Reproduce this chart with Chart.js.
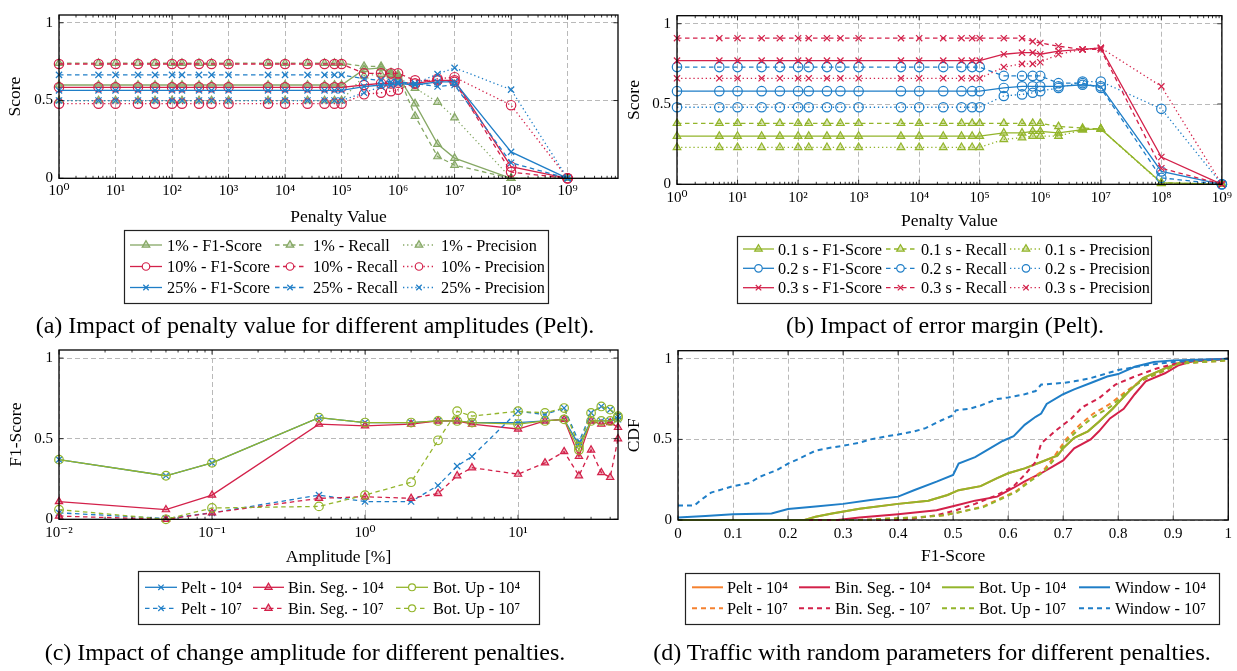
<!DOCTYPE html>
<html><head><meta charset="utf-8">
<script src="https://cdn.jsdelivr.net/npm/chart.js@4.4.1/dist/chart.umd.min.js"></script>
<style>
html,body{margin:0;padding:0;background:#fff;}
body{width:1237px;height:671px;position:relative;overflow:hidden;font-family:"Liberation Serif","DejaVu Serif",serif;}
canvas{position:absolute;}
#overlay{position:absolute;left:0;top:0;}
</style>
</head><body>
<canvas id="ca" width="640" height="230" style="left:0;top:0"></canvas>
<canvas id="cb" width="617" height="240" style="left:620px;top:0"></canvas>
<canvas id="cc" width="640" height="240" style="left:0;top:335px"></canvas>
<canvas id="cd" width="617" height="240" style="left:620px;top:335px"></canvas>
<svg id="overlay" width="1237" height="671" xmlns="http://www.w3.org/2000/svg"></svg>
<script>
// ================= DATA =================
// (a) penalty value vs. score for different amplitudes (Pelt)
const penaltyValues = [1,5,10,25,50,100,150,300,500,1000,5000,10000,25000,50000,75000,100000,250000,500000,750000,1000000,2000000,5000000,10000000,100000000,1000000000];
const penaltyTickLabels = ['10⁰','10¹','10²','10³','10⁴','10⁵','10⁶','10⁷','10⁸','10⁹'];
const scoreTickLabels = ['0','0.5','1'];
const scoreTicks = [0,0.5,1];

const amp1F1        = [0.60,0.60,0.60,0.60,0.60,0.60,0.60,0.60,0.60,0.60,0.60,0.60,0.60,0.60,0.60,0.60,0.70,0.71,0.67,0.66,0.48,0.22,0.13,0.00,0.00];
const amp1Recall    = [0.74,0.74,0.74,0.74,0.74,0.74,0.74,0.74,0.74,0.74,0.74,0.74,0.74,0.74,0.74,0.74,0.72,0.72,0.68,0.67,0.40,0.14,0.085,0.00,0.00];
const amp1Precision = [0.50,0.50,0.50,0.50,0.50,0.50,0.50,0.50,0.50,0.50,0.50,0.50,0.50,0.50,0.50,0.50,0.66,0.67,0.66,0.65,0.58,0.49,0.39,0.00,0.00];
const amp10F1        = [0.585,0.585,0.585,0.585,0.585,0.585,0.585,0.585,0.585,0.585,0.585,0.585,0.585,0.585,0.585,0.585,0.60,0.61,0.61,0.615,0.61,0.63,0.63,0.075,0.00];
const amp10Recall    = [0.735,0.735,0.735,0.735,0.735,0.735,0.735,0.735,0.735,0.735,0.735,0.735,0.735,0.735,0.735,0.735,0.675,0.675,0.675,0.675,0.63,0.63,0.62,0.04,0.00];
const amp10Precision = [0.48,0.48,0.48,0.48,0.48,0.48,0.48,0.48,0.48,0.48,0.48,0.48,0.48,0.48,0.48,0.48,0.54,0.55,0.56,0.57,0.61,0.64,0.65,0.47,0.00];
const amp25F1        = [0.565,0.565,0.565,0.565,0.565,0.565,0.565,0.565,0.565,0.565,0.565,0.565,0.565,0.565,0.565,0.565,0.59,0.60,0.60,0.61,0.60,0.62,0.62,0.17,0.00];
const amp25Recall    = [0.665,0.665,0.665,0.665,0.665,0.665,0.665,0.665,0.665,0.665,0.665,0.665,0.665,0.665,0.665,0.665,0.64,0.63,0.62,0.62,0.61,0.59,0.60,0.10,0.00];
const amp25Precision = [0.50,0.50,0.50,0.50,0.50,0.50,0.50,0.50,0.50,0.50,0.50,0.50,0.50,0.50,0.50,0.50,0.55,0.59,0.60,0.61,0.61,0.67,0.71,0.57,0.00];

// (b) error margin (Pelt)
const m01F1        = [0.30,0.30,0.30,0.30,0.30,0.30,0.30,0.30,0.30,0.30,0.30,0.30,0.30,0.30,0.30,0.30,0.32,0.32,0.33,0.33,0.32,0.34,0.345,0.01,0.00];
const m01Recall    = [0.38,0.38,0.38,0.38,0.38,0.38,0.38,0.38,0.38,0.38,0.38,0.38,0.38,0.38,0.38,0.38,0.38,0.38,0.38,0.38,0.36,0.35,0.345,0.01,0.00];
const m01Precision = [0.23,0.23,0.23,0.23,0.23,0.23,0.23,0.23,0.23,0.23,0.23,0.23,0.23,0.23,0.23,0.23,0.28,0.29,0.30,0.30,0.30,0.34,0.345,0.005,0.00];
const m02F1        = [0.58,0.58,0.58,0.58,0.58,0.58,0.58,0.58,0.58,0.58,0.58,0.58,0.58,0.58,0.58,0.58,0.60,0.61,0.61,0.61,0.61,0.62,0.61,0.08,0.00];
const m02Recall    = [0.73,0.73,0.73,0.73,0.73,0.73,0.73,0.73,0.73,0.73,0.73,0.73,0.73,0.73,0.73,0.73,0.675,0.675,0.675,0.675,0.63,0.63,0.60,0.04,0.00];
const m02Precision = [0.48,0.48,0.48,0.48,0.48,0.48,0.48,0.48,0.48,0.48,0.48,0.48,0.48,0.48,0.48,0.48,0.55,0.56,0.57,0.58,0.60,0.64,0.64,0.47,0.00];
const m03F1        = [0.77,0.77,0.77,0.77,0.77,0.77,0.77,0.77,0.77,0.77,0.77,0.77,0.77,0.77,0.77,0.77,0.81,0.82,0.82,0.81,0.83,0.84,0.85,0.17,0.00];
const m03Recall    = [0.91,0.91,0.91,0.91,0.91,0.91,0.91,0.91,0.91,0.91,0.91,0.91,0.91,0.91,0.91,0.91,0.91,0.91,0.89,0.88,0.86,0.84,0.84,0.10,0.00];
const m03Precision = [0.66,0.66,0.66,0.66,0.66,0.66,0.66,0.66,0.66,0.66,0.66,0.66,0.66,0.66,0.66,0.66,0.73,0.75,0.75,0.76,0.81,0.84,0.85,0.61,0.00];

// (c) change amplitude [%] vs F1-score
const amplitudes = [0.01,0.05,0.1,0.5,1,2,3,4,5,10,15,20,25,30,35,40,45];
const amplitudeTickLabels = ['10⁻²','10⁻¹','10⁰','10¹'];
const peltP4    = [0.37,0.27,0.35,0.63,0.60,0.60,0.61,0.61,0.60,0.60,0.61,0.62,0.46,0.61,0.61,0.61,0.62];
const binSegP4  = [0.11,0.06,0.15,0.59,0.58,0.59,0.61,0.61,0.59,0.56,0.61,0.62,0.39,0.61,0.59,0.60,0.57];
const botUpP4   = [0.37,0.27,0.35,0.63,0.60,0.60,0.61,0.61,0.60,0.59,0.61,0.62,0.43,0.61,0.61,0.61,0.63];
const peltP7    = [0.04,0.005,0.04,0.15,0.11,0.11,0.21,0.33,0.39,0.67,0.65,0.69,0.48,0.66,0.70,0.68,0.64];
const binSegP7  = [0.02,0.00,0.04,0.13,0.14,0.13,0.16,0.27,0.32,0.28,0.35,0.42,0.27,0.43,0.29,0.26,0.50];
const botUpP7   = [0.06,0.00,0.07,0.08,0.15,0.23,0.49,0.67,0.64,0.67,0.66,0.69,0.45,0.66,0.70,0.68,0.64];

// (d) CDF of F1-score, [F1, CDF] pairs
const cdfTickLabels = ['0','0.1','0.2','0.3','0.4','0.5','0.6','0.7','0.8','0.9','1'];
const cdfPelt4 = [[0,0],[0.23,0],[0.25,0.02],[0.28,0.04],[0.33,0.07],[0.4,0.10],[0.455,0.12],[0.49,0.155],[0.51,0.185],[0.55,0.21],[0.58,0.26],[0.6,0.29],[0.63,0.32],[0.66,0.36],[0.69,0.40],[0.70,0.445],[0.72,0.51],[0.745,0.55],[0.765,0.61],[0.79,0.69],[0.82,0.80],[0.845,0.88],[0.885,0.94],[0.915,0.98],[1,1]];
const cdfBinSeg4 = [[0,0],[0.29,0],[0.33,0.015],[0.4,0.035],[0.47,0.06],[0.505,0.09],[0.54,0.12],[0.58,0.145],[0.61,0.20],[0.63,0.24],[0.66,0.29],[0.68,0.33],[0.70,0.37],[0.72,0.445],[0.75,0.50],[0.765,0.55],[0.785,0.63],[0.81,0.69],[0.83,0.78],[0.85,0.86],[0.885,0.91],[0.91,0.96],[0.94,0.99],[1,1]];
const cdfBotUp4 = [[0,0],[0.23,0],[0.25,0.02],[0.28,0.04],[0.33,0.07],[0.4,0.10],[0.455,0.12],[0.49,0.155],[0.51,0.185],[0.55,0.21],[0.58,0.26],[0.6,0.29],[0.63,0.32],[0.66,0.36],[0.69,0.40],[0.70,0.445],[0.72,0.51],[0.745,0.55],[0.765,0.61],[0.79,0.69],[0.82,0.80],[0.845,0.88],[0.885,0.94],[0.915,0.98],[1,1]];
const cdfWindow4 = [[0,0.015],[0.05,0.025],[0.1,0.035],[0.17,0.04],[0.2,0.068],[0.25,0.083],[0.3,0.10],[0.35,0.124],[0.4,0.145],[0.43,0.186],[0.47,0.238],[0.5,0.28],[0.51,0.35],[0.54,0.39],[0.56,0.43],[0.59,0.49],[0.61,0.52],[0.63,0.59],[0.65,0.64],[0.66,0.66],[0.67,0.72],[0.70,0.78],[0.72,0.81],[0.75,0.85],[0.78,0.89],[0.8,0.905],[0.83,0.95],[0.865,0.98],[0.9,0.99],[1,1]];
const cdfPelt7 = [[0,0],[0.33,0],[0.36,0.005],[0.43,0.015],[0.485,0.03],[0.52,0.055],[0.555,0.085],[0.59,0.14],[0.615,0.18],[0.64,0.25],[0.665,0.31],[0.685,0.40],[0.705,0.50],[0.73,0.59],[0.755,0.66],[0.785,0.72],[0.815,0.80],[0.845,0.87],[0.88,0.92],[0.91,0.97],[1,0.99]];
const cdfBinSeg7 = [[0,0],[0.4,0],[0.43,0.01],[0.47,0.03],[0.505,0.06],[0.54,0.10],[0.58,0.155],[0.61,0.21],[0.63,0.28],[0.65,0.36],[0.66,0.475],[0.685,0.55],[0.715,0.63],[0.735,0.70],[0.765,0.755],[0.795,0.84],[0.83,0.89],[0.87,0.94],[0.915,0.98],[1,1]];
const cdfBotUp7 = [[0,0],[0.33,0],[0.36,0.005],[0.43,0.015],[0.485,0.03],[0.52,0.055],[0.555,0.08],[0.59,0.135],[0.615,0.175],[0.64,0.24],[0.665,0.30],[0.685,0.38],[0.705,0.485],[0.73,0.57],[0.755,0.64],[0.785,0.70],[0.815,0.79],[0.845,0.87],[0.88,0.92],[0.91,0.97],[1,0.99]];
const cdfWindow7 = [[0,0.09],[0.03,0.09],[0.04,0.12],[0.06,0.17],[0.08,0.19],[0.1,0.21],[0.13,0.23],[0.15,0.27],[0.18,0.31],[0.2,0.35],[0.22,0.38],[0.25,0.43],[0.28,0.45],[0.3,0.46],[0.33,0.48],[0.35,0.50],[0.38,0.52],[0.4,0.53],[0.43,0.55],[0.45,0.57],[0.48,0.62],[0.5,0.65],[0.505,0.68],[0.53,0.69],[0.55,0.71],[0.58,0.75],[0.6,0.76],[0.63,0.78],[0.65,0.80],[0.66,0.84],[0.7,0.85],[0.72,0.86],[0.75,0.88],[0.8,0.93],[0.85,0.96],[0.9,0.98],[0.95,0.99],[1,1]];

// ================= STYLE =================
const FONT = '"Liberation Serif","DejaVu Serif",serif';
const COL = {greenA:'#86a865', green:'#93b52b', red:'#d3214a', blue:'#1f7ec7', orange:'#f5812f'};
const DASH = {solid:[], dashed:[4.5,3.5], dotted:[1.3,2.8], thickDash:[5,4]};
function rgba(hex,a){const n=parseInt(hex.slice(1),16);return `rgba(${n>>16},${(n>>8)&255},${n&255},${a})`;}

function series(label, xs, ys, color, style, marker, opt={}){
  const bw = opt.bw || 1.3, r = opt.r || 4.4;
  return {
    label, data: xs.map((x,i)=>({x, y: ys[i]})),
    borderColor: color, backgroundColor: color, borderWidth: bw,
    borderDash: DASH[style], pointStyle: marker || 'circle', pointRadius: marker ? r : 0,
    pointBorderColor: color, pointBorderWidth: 1.2,
    pointBackgroundColor: marker === 'triangle' ? rgba(color,0.35) : 'rgba(255,255,255,0)',
    tension: 0, fill: false, clip: false,
    _color: color, _style: style, _marker: marker, _bw: bw, _r: r
  };
}
function pairSeries(label, pairs, color, style, bw){
  return series(label, pairs.map(p=>p[0]), pairs.map(p=>p[1]), color, style, null, {bw});
}

// frame + inward tick marks like pgfplots
const frameTicks = {
  id:'frameTicks',
  afterDatasetsDraw(chart){
    const {ctx, chartArea:a, scales:{x,y}} = chart;
    ctx.save();
    ctx.strokeStyle = '#000'; ctx.lineWidth = 0.8; ctx.setLineDash([]);
    ctx.beginPath();
    x.ticks.forEach(t=>{const p=x.getPixelForValue(t.value); const L=t.major?4.5:2.5;
      ctx.moveTo(p,a.bottom); ctx.lineTo(p,a.bottom-L); ctx.moveTo(p,a.top); ctx.lineTo(p,a.top+L);});
    y.ticks.forEach(t=>{const p=y.getPixelForValue(t.value);
      ctx.moveTo(a.left,p); ctx.lineTo(a.left+4.5,p); ctx.moveTo(a.right,p); ctx.lineTo(a.right-4.5,p);});
    ctx.stroke();
    ctx.lineWidth = 1.3;
    ctx.strokeRect(a.left, a.top, a.right-a.left, a.bottom-a.top);
    ctx.restore();
  }
};

function logTickList(minExp, maxVal){
  const out=[];
  for(let e=minExp; Math.pow(10,e)<=maxVal; e++){
    for(let m=1;m<10;m++){const v=m*Math.pow(10,e); if(v<=maxVal*1.0000001) out.push({value:v, major:m===1});}
  }
  return out;
}

function makeChart(id, box, area, cfg){
  const yW = area.left - box.left, xH = box.top + box.h - area.bottom;
  const titleSize = 17.5, lh = titleSize*1.2;
  const datasets = cfg.datasets;
  datasets.forEach((d,i)=>{ d.order = datasets.length - i; });
  const gridColor = c => (c.tick && c.tick.major) ? '#b9b9b9' : 'rgba(0,0,0,0)';
  return new Chart(document.getElementById(id), {
    type:'line',
    data:{datasets},
    plugins:[frameTicks],
    options:{
      responsive:false, animation:false, events:[], devicePixelRatio:1,
      layout:{padding:{left:0, top: area.top - box.top, right: box.left + box.w - area.right, bottom:0}},
      plugins:{legend:{display:false}, tooltip:{enabled:false}},
      scales:{
        x:{
          type: cfg.xType, min: cfg.xMin, max: cfg.xMax,
          afterBuildTicks: s => { s.ticks = cfg.xTicks; },
          afterFit: s => { s.height = xH; },
          ticks:{autoSkip:false, maxRotation:0, minRotation:0, padding: cfg.xTickPad,
            font:{family:FONT, size:15}, color:'#000',
            callback:(v,i)=> cfg.xLabel(v,i)},
          grid:{color:gridColor, lineWidth:1, drawTicks:false},
          border:{display:false, dash:[5,3]},
          title:{display:true, text:cfg.xTitle, color:'#000', font:{family:FONT, size:titleSize, lineHeight:1.2},
            padding:{top:0, bottom: box.top + box.h - cfg.xTitleY - lh/2}}
        },
        y:{
          type:'linear', min:0, max:1.05,
          afterBuildTicks: s => { s.ticks = scoreTicks.map(v=>({value:v, major:true})); },
          afterFit: s => { s.width = yW; },
          ticks:{padding: cfg.yTickPad, font:{family:FONT, size:15}, color:'#000',
            callback:(v,i)=> scoreTickLabels[i]},
          grid:{color:gridColor, lineWidth:1, drawTicks:false},
          border:{display:false, dash:[5,3]},
          title:{display:true, text:cfg.yTitle, color:'#000', font:{family:FONT, size:titleSize, lineHeight:1.2},
            padding:{top: cfg.yTitleX - box.left - lh/2, bottom:0}}
        }
      }
    }
  });
}

// ---------- chart (a)
const dsA = [
  series('1% - F1-Score', penaltyValues, amp1F1, COL.greenA, 'solid', 'triangle'),
  series('1% - Recall', penaltyValues, amp1Recall, COL.greenA, 'dashed', 'triangle'),
  series('1% - Precision', penaltyValues, amp1Precision, COL.greenA, 'dotted', 'triangle'),
  series('10% - F1-Score', penaltyValues, amp10F1, COL.red, 'solid', 'circle', {r:4.7}),
  series('10% - Recall', penaltyValues, amp10Recall, COL.red, 'dashed', 'circle', {r:4.7}),
  series('10% - Precision', penaltyValues, amp10Precision, COL.red, 'dotted', 'circle', {r:4.7}),
  series('25% - F1-Score', penaltyValues, amp25F1, COL.blue, 'solid', 'crossRot'),
  series('25% - Recall', penaltyValues, amp25Recall, COL.blue, 'dashed', 'crossRot'),
  series('25% - Precision', penaltyValues, amp25Precision, COL.blue, 'dotted', 'crossRot')
];
makeChart('ca', {left:0, top:0, w:640, h:230}, {left:59, right:618, top:5, bottom:178.3}, {
  datasets: dsA, xType:'logarithmic', xMin:1, xMax:7.8e9,
  xTicks: logTickList(0, 7.8e9),
  xLabel: v => { const e=Math.log10(v); return Math.abs(e-Math.round(e))<1e-9 && Math.round(e)<=9 ? penaltyTickLabels[Math.round(e)] : ''; },
  xTickPad:4, xTitle:'Penalty Value', xTitleY:217, yTitle:'Score', yTitleX:15, yTickPad:6
});

// ---------- chart (b)
const dsB = [
  series('0.1 s - F1-Score', penaltyValues, m01F1, COL.green, 'solid', 'triangle'),
  series('0.1 s - Recall', penaltyValues, m01Recall, COL.green, 'dashed', 'triangle'),
  series('0.1 s - Precision', penaltyValues, m01Precision, COL.green, 'dotted', 'triangle'),
  series('0.2 s - F1-Score', penaltyValues, m02F1, COL.blue, 'solid', 'circle', {r:4.7}),
  series('0.2 s - Recall', penaltyValues, m02Recall, COL.blue, 'dashed', 'circle', {r:4.7}),
  series('0.2 s - Precision', penaltyValues, m02Precision, COL.blue, 'dotted', 'circle', {r:4.7}),
  series('0.3 s - F1-Score', penaltyValues, m03F1, COL.red, 'solid', 'crossRot'),
  series('0.3 s - Recall', penaltyValues, m03Recall, COL.red, 'dashed', 'crossRot'),
  series('0.3 s - Precision', penaltyValues, m03Precision, COL.red, 'dotted', 'crossRot')
];
makeChart('cb', {left:620, top:0, w:617, h:240}, {left:677, right:1224, top:15.7, bottom:184.3}, {
  datasets: dsB, xType:'logarithmic', xMin:1, xMax:1e9,
  xTicks: logTickList(0, 1e9),
  xLabel: v => { const e=Math.log10(v); return Math.abs(e-Math.round(e))<1e-9 ? penaltyTickLabels[Math.round(e)] : ''; },
  xTickPad:5, xTitle:'Penalty Value', xTitleY:221, yTitle:'Score', yTitleX:634, yTickPad:6
});

// ---------- chart (c)
const dsC = [
  series('Pelt - 10⁴', amplitudes, peltP4, COL.blue, 'solid', 'crossRot'),
  series('Bin. Seg. - 10⁴', amplitudes, binSegP4, COL.red, 'solid', 'triangle', {r:4.2}),
  series('Bot. Up - 10⁴', amplitudes, botUpP4, COL.green, 'solid', 'circle', {r:4.3}),
  series('Pelt - 10⁷', amplitudes, peltP7, COL.blue, 'dashed', 'crossRot'),
  series('Bin. Seg. - 10⁷', amplitudes, binSegP7, COL.red, 'dashed', 'triangle', {r:4.2}),
  series('Bot. Up - 10⁷', amplitudes, botUpP7, COL.green, 'dashed', 'circle', {r:4.3})
];
makeChart('cc', {left:0, top:335, w:640, h:240}, {left:59, right:618, top:348.3, bottom:519.3}, {
  datasets: dsC, xType:'logarithmic', xMin:0.01, xMax:45,
  xTicks: logTickList(-2, 45),
  xLabel: v => { const e=Math.log10(v); return Math.abs(e-Math.round(e))<1e-9 ? amplitudeTickLabels[Math.round(e)+2] : ''; },
  xTickPad:5, xTitle:'Amplitude [%]', xTitleY:557, yTitle:'F1-Score', yTitleX:16, yTickPad:6
});

// ---------- chart (d)
const dsD = [
  pairSeries('Pelt - 10⁴', cdfPelt4, COL.orange, 'solid', 2),
  pairSeries('Bin. Seg. - 10⁴', cdfBinSeg4, COL.red, 'solid', 2),
  pairSeries('Bot. Up - 10⁴', cdfBotUp4, COL.green, 'solid', 2),
  pairSeries('Window - 10⁴', cdfWindow4, COL.blue, 'solid', 2),
  pairSeries('Pelt - 10⁷', cdfPelt7, COL.orange, 'thickDash', 2),
  pairSeries('Bin. Seg. - 10⁷', cdfBinSeg7, COL.red, 'thickDash', 2),
  pairSeries('Bot. Up - 10⁷', cdfBotUp7, COL.green, 'thickDash', 2),
  pairSeries('Window - 10⁷', cdfWindow7, COL.blue, 'thickDash', 2)
];
makeChart('cd', {left:620, top:335, w:617, h:240}, {left:678, right:1229, top:350.7, bottom:520}, {
  datasets: dsD, xType:'linear', xMin:0, xMax:1,
  xTicks: cdfTickLabels.map((l,i)=>({value:i/10, major:true})),
  xLabel: (v,i) => cdfTickLabels[i],
  xTickPad:5, xTitle:'F1-Score', xTitleY:556, yTitle:'CDF', yTitleX:634, yTickPad:6
});

// ================= LEGENDS & CAPTIONS (SVG text) =================
const NS='http://www.w3.org/2000/svg';
const ov=document.getElementById('overlay');
function el(tag, attrs, text){const e=document.createElementNS(NS,tag);for(const k in attrs)e.setAttribute(k,attrs[k]);if(text!=null)e.textContent=text;ov.appendChild(e);return e;}
function markerSVG(x,y,d){
  const c=d._color, r=d._r;
  if(d._marker==='triangle'){
    el('polygon',{points:`${x},${y-r} ${x-r*0.866},${y+r/2} ${x+r*0.866},${y+r/2}`,fill:rgba(c,0.35),stroke:c,'stroke-width':1.2});
  } else if(d._marker==='circle'){
    el('circle',{cx:x,cy:y,r:r*0.8,fill:'#fff',stroke:c,'stroke-width':1.2});
  } else if(d._marker==='crossRot'){
    const o=r*0.62;
    el('path',{d:`M${x-o},${y-o}L${x+o},${y+o}M${x-o},${y+o}L${x+o},${y-o}`,stroke:c,'stroke-width':1.2,fill:'none'});
  }
}
function legend(box, cols, rows, ds, fontSize){
  el('rect',{x:box[0]+0.5,y:box[1]+0.5,width:box[2]-box[0],height:box[3]-box[1],fill:'#fff',stroke:'#222','stroke-width':1.2});
  ds.forEach((d,i)=>{
    const c=cols[i%cols.length], y=rows[Math.floor(i/cols.length)];
    const dash = DASH[d._style].length ? DASH[d._style].join(' ') : 'none';
    el('line',{x1:c[0],y1:y,x2:c[1],y2:y,stroke:d._color,'stroke-width':d._bw,'stroke-dasharray':dash});
    if(d._marker) markerSVG((c[0]+c[1])/2,y,d);
    el('text',{x:c[2],y:y,'dominant-baseline':'central','font-family':FONT,'font-size':fontSize,fill:'#000'},d.label);
  });
}
legend([124,230,548,303], [[130,162,167],[275,305,313],[403,435,441]], [245,266.5,287.5], dsA, 16.3);
legend([737,236,1151,303], [[743,774,778],[886,915,921],[1010,1042,1045]], [249,268.3,287.7], dsB, 16.3);
legend([138,571,539,624], [[145,177,181],[253,284,288],[396,428,433]], [587.3,608.3], dsC, 16.3);
legend([685,573,1219,624], [[692,723,727],[799,830,835],[942,974,979],[1079,1110,1115]], [587.3,608.3], dsD, 16.3);

function caption(x,y,text){el('text',{x:x,y:y,'text-anchor':'middle','dominant-baseline':'central','font-family':FONT,'font-size':24,fill:'#000'},text);}
caption(315,325,'(a) Impact of penalty value for different amplitudes (Pelt).');
caption(945,325,'(b) Impact of error margin (Pelt).');
caption(305,652,'(c) Impact of change amplitude for different penalties.');
caption(932,652,'(d) Traffic with random parameters for different penalties.');
</script>
</body></html>
